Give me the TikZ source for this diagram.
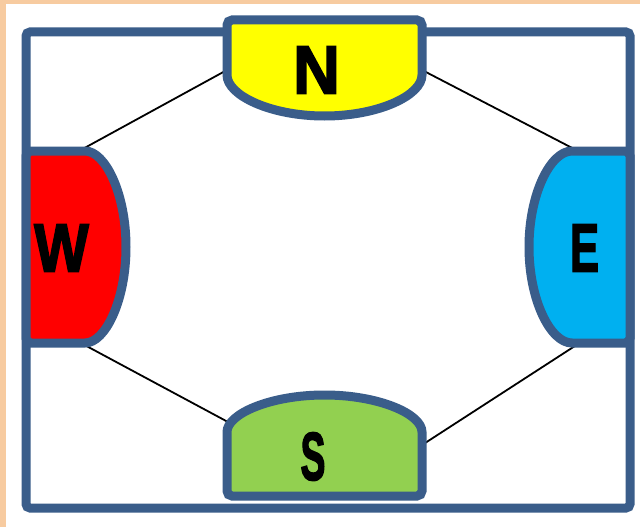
\documentclass[tikz,border=0pt]{standalone}
\usepackage{fontspec}
\newfontfamily\lettfont{Liberation Sans}[FakeBold=2.6]
\definecolor{peach}{HTML}{F7CBA0}
\definecolor{edgeblue}{HTML}{3A5D8A}
\definecolor{nyellow}{HTML}{FFFF00}
\definecolor{wred}{HTML}{FF0000}
\definecolor{eblue}{HTML}{00B0F0}
\definecolor{sgreen}{HTML}{92D050}
\begin{document}
\begin{tikzpicture}[x=1pt,y=-1pt,
  frame/.style={draw=edgeblue,line width=9pt,rounded corners=4pt},
  lobe/.style={draw=edgeblue,line width=9pt,rounded corners=5pt},
  link/.style={draw=black,line width=1.8pt},
  letter/.style={inner sep=0pt,font=\lettfont\bfseries\fontsize{68}{68}\selectfont}]
\useasboundingbox (0,0) rectangle (640,527);
\fill[peach] (0,0) rectangle (640,527);
\fill[white] (6,4) rectangle (640,527);
% outer frame
\draw[frame] (26,32) rectangle (630,508);
% connector end points
\coordinate (nl) at (227,70);
\coordinate (nr) at (422,70);
\coordinate (wt) at (79,151);
\coordinate (wb) at (79,342);
\coordinate (et) at (578,151);
\coordinate (eb) at (578,344);
\coordinate (sl) at (228,422);
\coordinate (sr) at (422,445);
% connectors
\draw[link] (nl) -- (wt);
\draw[link] (nr) -- (et);
\draw[link] (wb) -- (sl);
\draw[link] (eb) -- (sr);
% lobes
\draw[lobe,fill=nyellow] (227,70) -- (227,20) -- (422,20) -- (422,70)
  arc[start angle=0,end angle=180,x radius=97.5,y radius=46] -- cycle;
\draw[lobe,fill=wred] (26,343) -- (26,151) -- (80,151)
  arc[start angle=-90,end angle=90,x radius=46,y radius=96] -- cycle;
\draw[lobe,fill=eblue] (630,151) -- (630,343) -- (577,343)
  arc[start angle=90,end angle=270,x radius=48,y radius=96] -- cycle;
\draw[lobe,fill=sgreen] (422,437) -- (422,496) -- (227,496) -- (227,437)
  arc[start angle=180,end angle=360,x radius=97.5,y radius=42] -- cycle;
% letters
\node[letter] (N) at (316.5,70) {\scalebox{0.95}[1]{N}};
\node[letter] (W) at (61.5,248) {\scalebox{0.85}[1]{W}};
\node[letter] (E) at (584.5,248) {\scalebox{0.64}[1]{E}};
\node[letter] (S) at (313,456.5) {\scalebox{0.55}[1]{S}};
\end{tikzpicture}
\end{document}
